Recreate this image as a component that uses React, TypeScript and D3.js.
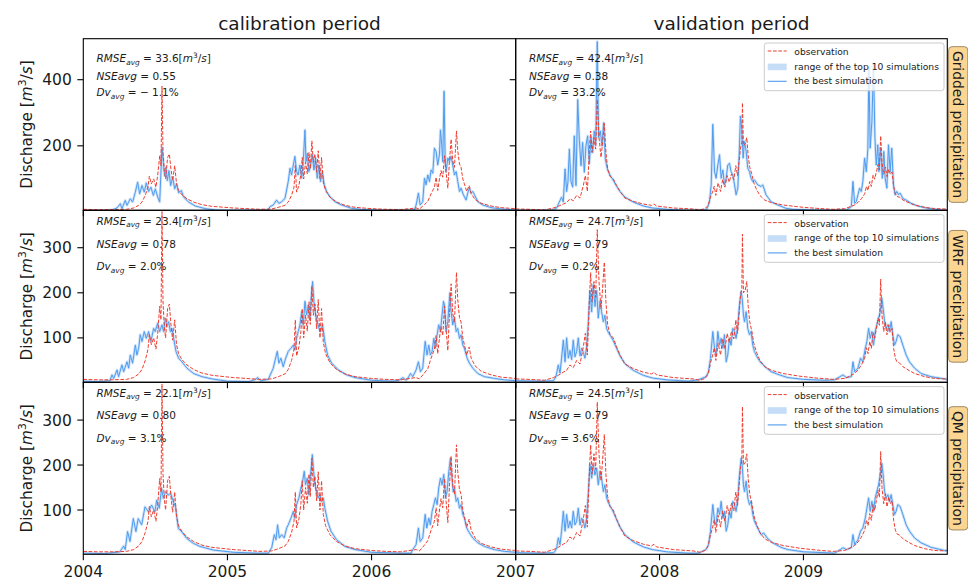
import React, { useLayoutEffect, useRef, useState } from 'react';
import * as d3 from 'd3';

type P = [number, number];

// ---------------- layout constants ----------------
const W = 968;
const H = 578;
const COL_X: [number, number][] = [[83.3, 515.7], [515.7, 947.3]];
const ROW_Y: [number, number][] = [[38.7, 210.3], [210.3, 382.3], [382.3, 554.3]];

// ---------------- labels / axes ----------------
const PERIOD_TITLES = ['calibration period', 'validation period'];
const PERIOD_DOMAINS: [number, number][] = [[2004, 2007], [2007, 2010]];
const X_TICKS = [[2004, 2005, 2006, 2007], [2007, 2008, 2009]];
const X_TICK_LABELS = [[2004, 2005, 2006], [2007, 2008, 2009]];
const ROW_LABELS = ['Gridded precipitation', 'WRF precipitation', 'QM precipitation'];
const Y_DOMAINS: [number, number][] = [[5, 524], [1.5, 383], [1.5, 384]];
const Y_TICKS = [[200, 400], [100, 200, 300], [100, 200, 300]];
const LEGEND_LABELS = ['observation', 'range of the top 10 simulations', 'the best simulation'];

// statistics per row: [calibration, validation]
const RMSE_AVG = [[33.6, 42.4], [23.4, 24.7], [22.1, 24.5]];
const NSE_AVG = [[0.55, 0.38], [0.78, 0.79], [0.80, 0.79]];
const DV_AVG = [[-1.1, 33.2], [2.0, 0.2], [3.1, 3.6]];

// ---------------- observations ----------------
const OBS_CAL: P[] = [
  [2004.000, 8], [2004.100, 7], [2004.200, 7], [2004.300, 8],
  [2004.349, 12], [2004.384, 20], [2004.407, 30], [2004.430, 50], [2004.449, 75], [2004.458, 108], [2004.472, 85],
  [2004.488, 100], [2004.504, 75], [2004.516, 110], [2004.530, 170], [2004.539, 140], [2004.546, 380], [2004.553, 180],
  [2004.562, 125], [2004.571, 100], [2004.585, 165], [2004.597, 175], [2004.608, 130], [2004.620, 95], [2004.634, 140],
  [2004.647, 85], [2004.661, 65], [2004.684, 52], [2004.719, 40], [2004.765, 30], [2004.823, 22], [2004.892, 17],
  [2005.040, 12], [2005.225, 8],
  [2005.307, 9], [2005.353, 14], [2005.399, 20], [2005.422, 30], [2005.445, 50], [2005.462, 75], [2005.471, 140],
  [2005.480, 60], [2005.496, 80], [2005.510, 115], [2005.519, 165], [2005.529, 100], [2005.542, 150], [2005.554, 115],
  [2005.566, 180], [2005.575, 130], [2005.586, 215], [2005.596, 150], [2005.607, 175], [2005.619, 120], [2005.630, 185],
  [2005.642, 100], [2005.653, 165], [2005.665, 90], [2005.681, 65], [2005.711, 45], [2005.757, 30], [2005.815, 20],
  [2005.885, 14], [2006.000, 10], [2006.100, 8], [2006.200, 7],
  [2006.309, 12], [2006.332, 9], [2006.367, 22], [2006.390, 32], [2006.413, 55], [2006.436, 75], [2006.448, 105],
  [2006.459, 65], [2006.471, 100], [2006.482, 125], [2006.494, 105], [2006.506, 170], [2006.517, 120], [2006.529, 72],
  [2006.540, 150], [2006.552, 220], [2006.563, 155], [2006.575, 135], [2006.589, 245], [2006.598, 185], [2006.610, 145],
  [2006.621, 135], [2006.633, 100], [2006.644, 85], [2006.660, 62], [2006.677, 80], [2006.691, 55], [2006.718, 38],
  [2006.760, 26], [2006.829, 18], [2006.899, 13], [2007.000, 10],
];

const OBS_VAL: P[] = [
  [2007.000, 9], [2007.100, 8], [2007.200, 6], [2007.262, 12], [2007.296, 17], [2007.331, 24], [2007.354, 28],
  [2007.377, 40], [2007.400, 34], [2007.424, 50], [2007.447, 42], [2007.470, 80], [2007.484, 110], [2007.498, 62],
  [2007.512, 185], [2007.521, 245], [2007.530, 180], [2007.544, 225], [2007.556, 190], [2007.567, 340], [2007.579, 225],
  [2007.593, 165], [2007.604, 210], [2007.616, 268], [2007.627, 180], [2007.639, 130], [2007.655, 108], [2007.678, 100],
  [2007.701, 80], [2007.725, 62], [2007.759, 42], [2007.817, 32], [2007.887, 24], [2007.944, 20], [2007.961, 24],
  [2007.979, 18], [2008.095, 12], [2008.234, 9],
  [2008.280, 6], [2008.315, 10], [2008.338, 20], [2008.354, 45], [2008.368, 60], [2008.380, 78], [2008.391, 50],
  [2008.407, 88], [2008.424, 62], [2008.438, 98], [2008.454, 75], [2008.470, 110], [2008.484, 90], [2008.500, 115],
  [2008.516, 98], [2008.530, 140], [2008.542, 110], [2008.553, 155], [2008.563, 195], [2008.572, 210], [2008.576, 330],
  [2008.583, 200], [2008.595, 205], [2008.606, 225], [2008.616, 170], [2008.627, 135], [2008.641, 115], [2008.655, 88],
  [2008.674, 68], [2008.697, 50], [2008.731, 36], [2008.778, 28], [2008.859, 21], [2008.975, 15], [2009.090, 11],
  [2009.206, 8],
  [2009.287, 10], [2009.333, 17], [2009.356, 21], [2009.380, 29], [2009.403, 40], [2009.426, 55], [2009.438, 78],
  [2009.449, 65], [2009.461, 92], [2009.472, 77], [2009.484, 112], [2009.495, 99], [2009.507, 121], [2009.519, 144],
  [2009.528, 128], [2009.537, 230], [2009.546, 150], [2009.558, 114], [2009.569, 136], [2009.581, 107], [2009.593, 129],
  [2009.604, 114], [2009.616, 121], [2009.627, 77], [2009.639, 55], [2009.650, 47], [2009.669, 44], [2009.692, 36],
  [2009.727, 29], [2009.773, 21], [2009.843, 14], [2009.912, 10], [2009.993, 9],
];

// ---------------- best simulations ----------------
const SIM_CAL_GRIDDED: P[] = [
  [2004.000, 5], [2004.150, 5], [2004.199, 6], [2004.234, 12], [2004.257, 25], [2004.268, 10], [2004.291, 35],
  [2004.303, 20], [2004.326, 40], [2004.342, 30], [2004.361, 60], [2004.377, 90], [2004.391, 55], [2004.407, 80],
  [2004.423, 60], [2004.437, 88], [2004.453, 62], [2004.469, 75], [2004.486, 50], [2004.500, 70], [2004.516, 45],
  [2004.530, 30], [2004.546, 195], [2004.555, 150], [2004.564, 110], [2004.573, 135], [2004.583, 95], [2004.594, 125],
  [2004.606, 80], [2004.620, 105], [2004.634, 70], [2004.647, 85], [2004.661, 58], [2004.680, 65], [2004.696, 45],
  [2004.731, 30], [2004.777, 18], [2004.846, 10], [2004.916, 6], [2005.000, 5],
  [2005.283, 6], [2005.295, 16], [2005.318, 21], [2005.341, 36], [2005.357, 26], [2005.376, 31], [2005.399, 41],
  [2005.422, 92], [2005.434, 132], [2005.445, 112], [2005.457, 142], [2005.468, 168], [2005.480, 122], [2005.491, 112],
  [2005.503, 142], [2005.515, 102], [2005.526, 152], [2005.538, 248], [2005.545, 152], [2005.554, 178], [2005.565, 122],
  [2005.577, 142], [2005.589, 173], [2005.600, 127], [2005.612, 163], [2005.623, 102], [2005.635, 142], [2005.646, 92],
  [2005.658, 122], [2005.672, 82], [2005.688, 62], [2005.711, 46], [2005.746, 31], [2005.792, 21], [2005.861, 11],
  [2005.919, 8], [2006.050, 5],
  [2006.298, 6], [2006.309, 21], [2006.325, 57], [2006.337, 21], [2006.355, 31], [2006.367, 102], [2006.378, 82],
  [2006.390, 112], [2006.402, 92], [2006.413, 127], [2006.425, 117], [2006.436, 193], [2006.448, 183], [2006.459, 142],
  [2006.471, 173], [2006.478, 248], [2006.487, 203], [2006.494, 152], [2006.503, 365], [2006.510, 173], [2006.517, 122],
  [2006.529, 163], [2006.540, 152], [2006.552, 168], [2006.563, 142], [2006.575, 112], [2006.587, 122], [2006.598, 92],
  [2006.610, 62], [2006.621, 72], [2006.637, 52], [2006.656, 36], [2006.667, 57], [2006.679, 72], [2006.691, 57],
  [2006.702, 62], [2006.714, 52], [2006.737, 31], [2006.772, 21], [2006.829, 13], [2006.899, 9], [2007.000, 6],
];

const SIM_CAL_WRF: P[] = [
  [2004.000, 4], [2004.100, 3], [2004.185, 5], [2004.199, 18], [2004.211, 10], [2004.234, 29], [2004.245, 14],
  [2004.268, 40], [2004.280, 25], [2004.303, 47], [2004.315, 33], [2004.326, 62], [2004.342, 44], [2004.361, 84],
  [2004.372, 62], [2004.384, 77], [2004.395, 107], [2004.407, 92], [2004.423, 114], [2004.437, 99], [2004.453, 114],
  [2004.469, 92], [2004.488, 121], [2004.499, 114], [2004.516, 133], [2004.530, 114], [2004.546, 129], [2004.557, 114],
  [2004.569, 144], [2004.580, 125], [2004.592, 136], [2004.604, 114], [2004.615, 121], [2004.627, 99], [2004.643, 70],
  [2004.661, 55], [2004.684, 47], [2004.719, 33], [2004.765, 21], [2004.823, 14], [2004.892, 9], [2005.000, 4],
  [2005.150, 3], [2005.195, 8], [2005.210, 12], [2005.230, 5],
  [2005.283, 8], [2005.307, 25], [2005.318, 33], [2005.334, 55], [2005.346, 70], [2005.357, 44], [2005.371, 55],
  [2005.387, 36], [2005.404, 55], [2005.422, 70], [2005.441, 77], [2005.457, 84], [2005.468, 73], [2005.480, 99],
  [2005.491, 114], [2005.503, 129], [2005.515, 158], [2005.526, 129], [2005.538, 181], [2005.549, 151], [2005.561, 173],
  [2005.572, 140], [2005.584, 203], [2005.591, 225], [2005.600, 181], [2005.612, 151], [2005.623, 136], [2005.635, 121],
  [2005.646, 114], [2005.660, 129], [2005.676, 92], [2005.695, 62], [2005.723, 44], [2005.769, 29], [2005.827, 18],
  [2005.885, 12], [2006.000, 6], [2006.150, 4],
  [2006.190, 6], [2006.217, 12], [2006.240, 6], [2006.251, 10], [2006.270, 21], [2006.286, 14], [2006.309, 29],
  [2006.325, 47], [2006.339, 25], [2006.355, 33], [2006.372, 92], [2006.385, 62], [2006.397, 84], [2006.408, 62],
  [2006.420, 70], [2006.432, 99], [2006.443, 77], [2006.455, 107], [2006.466, 129], [2006.478, 114], [2006.489, 151],
  [2006.499, 181], [2006.506, 173], [2006.517, 114], [2006.529, 136], [2006.543, 200], [2006.552, 158], [2006.563, 129],
  [2006.575, 144], [2006.587, 114], [2006.598, 121], [2006.610, 99], [2006.621, 107], [2006.633, 84], [2006.644, 77],
  [2006.663, 55], [2006.679, 44], [2006.702, 33], [2006.737, 21], [2006.783, 14], [2006.852, 10], [2006.922, 7],
  [2007.000, 5],
];

const SIM_CAL_QM: P[] = [
  [2004.000, 4], [2004.150, 3], [2004.254, 7], [2004.280, 20], [2004.291, 12], [2004.307, 52], [2004.324, 30],
  [2004.347, 81], [2004.365, 52], [2004.381, 81], [2004.405, 67], [2004.428, 107], [2004.451, 96], [2004.474, 111],
  [2004.497, 96], [2004.509, 122], [2004.527, 104], [2004.543, 148], [2004.555, 126], [2004.571, 141], [2004.589, 133],
  [2004.606, 137], [2004.624, 119], [2004.640, 107], [2004.659, 59], [2004.682, 52], [2004.717, 37], [2004.763, 26],
  [2004.809, 19], [2004.902, 11], [2005.040, 6], [2005.200, 4],
  [2005.283, 4], [2005.307, 16], [2005.325, 45], [2005.337, 34], [2005.348, 67], [2005.360, 38], [2005.376, 45],
  [2005.394, 38], [2005.411, 60], [2005.422, 67], [2005.441, 82], [2005.457, 97], [2005.468, 82], [2005.480, 112],
  [2005.496, 127], [2005.510, 149], [2005.522, 164], [2005.533, 186], [2005.542, 156], [2005.554, 171], [2005.565, 134],
  [2005.577, 179], [2005.589, 223], [2005.598, 186], [2005.607, 156], [2005.619, 141], [2005.630, 127], [2005.642, 134],
  [2005.653, 119], [2005.665, 127], [2005.676, 104], [2005.695, 75], [2005.718, 53], [2005.757, 34], [2005.815, 19],
  [2005.885, 12], [2006.000, 6], [2006.200, 4],
  [2006.274, 4], [2006.286, 12], [2006.309, 23], [2006.325, 60], [2006.337, 30], [2006.355, 38], [2006.372, 90],
  [2006.383, 60], [2006.397, 82], [2006.408, 67], [2006.420, 97], [2006.432, 112], [2006.443, 127], [2006.455, 112],
  [2006.466, 149], [2006.478, 171], [2006.489, 156], [2006.501, 179], [2006.513, 127], [2006.524, 141], [2006.536, 186],
  [2006.547, 215], [2006.556, 179], [2006.566, 141], [2006.575, 149], [2006.587, 119], [2006.598, 127], [2006.610, 104],
  [2006.621, 112], [2006.633, 90], [2006.644, 82], [2006.660, 60], [2006.679, 49], [2006.702, 38], [2006.737, 27],
  [2006.783, 19], [2006.852, 12], [2006.922, 8], [2007.000, 6],
];

const SIM_VAL_GRIDDED: P[] = [
  [2007.000, 5], [2007.169, 5], [2007.262, 6], [2007.285, 12], [2007.303, 30], [2007.319, 45], [2007.331, 30],
  [2007.343, 130], [2007.354, 62], [2007.363, 90], [2007.373, 190], [2007.384, 92], [2007.396, 75], [2007.407, 230],
  [2007.419, 80], [2007.431, 340], [2007.442, 220], [2007.454, 140], [2007.465, 210], [2007.477, 120], [2007.488, 200],
  [2007.500, 230], [2007.512, 145], [2007.523, 225], [2007.535, 180], [2007.546, 245], [2007.556, 205], [2007.567, 515],
  [2007.576, 225], [2007.588, 245], [2007.600, 200], [2007.611, 270], [2007.623, 160], [2007.637, 130], [2007.655, 112],
  [2007.678, 96], [2007.701, 78], [2007.725, 62], [2007.759, 45], [2007.817, 30], [2007.887, 18], [2007.950, 12],
  [2008.050, 8], [2008.200, 5],
  [2008.324, 6], [2008.336, 16], [2008.347, 31], [2008.359, 82], [2008.370, 265], [2008.382, 122], [2008.393, 102],
  [2008.405, 142], [2008.417, 173], [2008.428, 102], [2008.440, 127], [2008.451, 82], [2008.463, 102], [2008.474, 142],
  [2008.486, 147], [2008.497, 122], [2008.509, 112], [2008.521, 82], [2008.532, 52], [2008.544, 72], [2008.555, 193],
  [2008.562, 290], [2008.571, 253], [2008.581, 163], [2008.590, 213], [2008.602, 183], [2008.613, 132], [2008.625, 122],
  [2008.636, 102], [2008.648, 92], [2008.659, 97], [2008.682, 82], [2008.706, 77], [2008.717, 82], [2008.740, 52],
  [2008.775, 31], [2008.821, 21], [2008.879, 11], [2008.925, 8], [2009.050, 6], [2009.200, 5],
  [2009.300, 6], [2009.333, 16], [2009.344, 92], [2009.356, 26], [2009.367, 31], [2009.379, 52], [2009.390, 72],
  [2009.402, 62], [2009.413, 92], [2009.425, 163], [2009.437, 122], [2009.448, 193], [2009.455, 440], [2009.464, 193],
  [2009.476, 274], [2009.487, 445], [2009.497, 223], [2009.506, 142], [2009.517, 203], [2009.524, 122], [2009.536, 193],
  [2009.548, 102], [2009.559, 183], [2009.568, 102], [2009.580, 72], [2009.591, 203], [2009.603, 122], [2009.614, 193],
  [2009.626, 82], [2009.637, 52], [2009.649, 62], [2009.661, 52], [2009.672, 57], [2009.691, 41], [2009.714, 36],
  [2009.749, 26], [2009.795, 18], [2009.864, 11], [2009.957, 6], [2010.000, 5],
];

const SIM_VAL_WRF: P[] = [
  [2007.000, 5], [2007.169, 4], [2007.262, 5], [2007.280, 14], [2007.296, 40], [2007.308, 22], [2007.319, 55],
  [2007.331, 95], [2007.343, 47], [2007.354, 100], [2007.366, 55], [2007.377, 72], [2007.389, 52], [2007.400, 95],
  [2007.412, 58], [2007.424, 70], [2007.435, 100], [2007.447, 60], [2007.458, 77], [2007.470, 68], [2007.481, 55],
  [2007.493, 80], [2007.505, 136], [2007.516, 205], [2007.528, 158], [2007.539, 218], [2007.551, 170], [2007.563, 205],
  [2007.574, 144], [2007.586, 182], [2007.597, 158], [2007.609, 136], [2007.620, 150], [2007.632, 121], [2007.644, 112],
  [2007.660, 104], [2007.678, 94], [2007.701, 77], [2007.725, 60], [2007.759, 43], [2007.817, 28], [2007.887, 17],
  [2007.950, 11], [2008.050, 7], [2008.200, 4],
  [2008.270, 7], [2008.324, 14], [2008.340, 25], [2008.354, 55], [2008.370, 114], [2008.382, 77], [2008.393, 62],
  [2008.405, 114], [2008.417, 84], [2008.428, 99], [2008.440, 77], [2008.451, 107], [2008.463, 47], [2008.474, 62],
  [2008.486, 99], [2008.497, 84], [2008.509, 121], [2008.521, 114], [2008.532, 99], [2008.544, 129], [2008.555, 173],
  [2008.567, 203], [2008.574, 188], [2008.583, 151], [2008.590, 136], [2008.602, 158], [2008.613, 121], [2008.625, 107],
  [2008.636, 114], [2008.648, 84], [2008.659, 70], [2008.682, 55], [2008.706, 44], [2008.717, 42], [2008.733, 36],
  [2008.775, 25], [2008.833, 18], [2008.891, 12], [2009.000, 8], [2009.150, 6],
  [2009.217, 7], [2009.275, 18], [2009.298, 12], [2009.333, 14], [2009.344, 47], [2009.356, 25], [2009.379, 33],
  [2009.397, 55], [2009.413, 47], [2009.430, 77], [2009.441, 92], [2009.453, 121], [2009.464, 99], [2009.476, 114],
  [2009.487, 84], [2009.499, 114], [2009.510, 129], [2009.522, 144], [2009.534, 158], [2009.545, 188], [2009.554, 166],
  [2009.564, 136], [2009.575, 121], [2009.587, 129], [2009.598, 114], [2009.610, 136], [2009.621, 107], [2009.633, 84],
  [2009.644, 92], [2009.656, 107], [2009.672, 103], [2009.691, 84], [2009.714, 62], [2009.737, 47], [2009.772, 33],
  [2009.818, 21], [2009.887, 14], [2009.980, 9], [2010.000, 8],
];

const SIM_VAL_QM: P[] = [
  [2007.000, 5], [2007.169, 4], [2007.262, 5], [2007.273, 8], [2007.285, 16], [2007.296, 38], [2007.308, 23],
  [2007.319, 53], [2007.331, 97], [2007.343, 53], [2007.354, 90], [2007.366, 60], [2007.377, 75], [2007.389, 60],
  [2007.400, 97], [2007.412, 67], [2007.424, 75], [2007.435, 104], [2007.447, 67], [2007.458, 82], [2007.470, 75],
  [2007.481, 60], [2007.493, 82], [2007.505, 141], [2007.516, 201], [2007.528, 171], [2007.539, 201], [2007.551, 178],
  [2007.563, 193], [2007.574, 156], [2007.586, 186], [2007.597, 171], [2007.609, 141], [2007.620, 156], [2007.632, 127],
  [2007.644, 116], [2007.660, 107], [2007.678, 96], [2007.701, 79], [2007.725, 62], [2007.759, 45], [2007.817, 29],
  [2007.887, 18], [2007.950, 12], [2008.050, 7], [2008.200, 4],
  [2008.270, 4], [2008.324, 12], [2008.340, 23], [2008.354, 53], [2008.370, 112], [2008.382, 75], [2008.393, 67],
  [2008.405, 104], [2008.417, 90], [2008.428, 119], [2008.440, 82], [2008.451, 97], [2008.463, 53], [2008.474, 67],
  [2008.486, 97], [2008.497, 82], [2008.509, 119], [2008.521, 112], [2008.532, 97], [2008.544, 127], [2008.555, 178],
  [2008.567, 215], [2008.574, 201], [2008.583, 156], [2008.590, 141], [2008.602, 164], [2008.613, 127], [2008.625, 112],
  [2008.636, 119], [2008.648, 90], [2008.659, 75], [2008.682, 60], [2008.706, 45], [2008.724, 49], [2008.747, 38],
  [2008.786, 27], [2008.844, 17], [2008.891, 12], [2009.000, 7], [2009.150, 5],
  [2009.217, 4], [2009.275, 16], [2009.298, 12], [2009.333, 16], [2009.344, 45], [2009.356, 23], [2009.379, 34],
  [2009.397, 53], [2009.413, 60], [2009.430, 82], [2009.441, 104], [2009.453, 127], [2009.464, 97], [2009.476, 119],
  [2009.487, 97], [2009.499, 127], [2009.510, 141], [2009.522, 156], [2009.534, 178], [2009.545, 204], [2009.554, 178],
  [2009.564, 141], [2009.575, 127], [2009.587, 134], [2009.598, 119], [2009.610, 134], [2009.621, 112], [2009.633, 90],
  [2009.644, 97], [2009.656, 112], [2009.672, 108], [2009.691, 90], [2009.714, 67], [2009.737, 53], [2009.772, 38],
  [2009.818, 27], [2009.887, 17], [2009.980, 10], [2010.000, 10],
];

const OBS_SERIES = [OBS_CAL, OBS_VAL];
const SIM_SERIES = [
  [SIM_CAL_GRIDDED, SIM_VAL_GRIDDED],
  [SIM_CAL_WRF, SIM_VAL_WRF],
  [SIM_CAL_QM, SIM_VAL_QM],
];

// ---------------- styles ----------------
const FONT = 'DejaVu Sans, Verdana, sans-serif';
const OBS_COLOR = '#ee3d2f';
const SIM_COLOR = '#4f9bef';
const BAND_COLOR = '#cfe3f8';
const TEXT_COLOR = '#1a1a1a';
const BOX_FILL = '#fbd592';
const BOX_STROKE = '#a08a63';

// annotation baselines, offset from panel top
const ANNOT_OFFSETS = [[23.6, 41.3, 57.6], [14.2, 37.4, 59.7], [14.2, 37.0, 59.4]];

const fmtMinus = (v: number, d: number) => (v < 0 ? '\u2212 ' + Math.abs(v).toFixed(d) : v.toFixed(d));

function Annotation({ x, ys, r, c }: { x: number; ys: number[]; r: number; c: number }) {
  const fs = 10.5;
  const sub = 7.4;
  return (
    <g fontFamily={FONT} fontSize={fs} fill={TEXT_COLOR}>
      <text x={x} y={ys[0]}>
        <tspan fontStyle="italic">RMSE</tspan>
        <tspan fontStyle="italic" fontSize={sub} dy={2.6}>avg</tspan>
        <tspan dy={-2.6}>{' = ' + RMSE_AVG[r][c].toFixed(1) + '['}</tspan>
        <tspan fontStyle="italic">m</tspan>
        <tspan fontSize={sub} dy={-4}>3</tspan>
        <tspan dy={4}>/</tspan>
        <tspan fontStyle="italic">s</tspan>
        <tspan>]</tspan>
      </text>
      <text x={x} y={ys[1]}>
        <tspan fontStyle="italic">NSEavg</tspan>
        <tspan>{' = ' + NSE_AVG[r][c].toFixed(2)}</tspan>
      </text>
      <text x={x} y={ys[2]}>
        <tspan fontStyle="italic">Dv</tspan>
        <tspan fontStyle="italic" fontSize={sub} dy={2.6}>avg</tspan>
        <tspan dy={-2.6}>{' = ' + fmtMinus(DV_AVG[r][c], 1) + '%'}</tspan>
      </text>
    </g>
  );
}

function Legend({ top }: { top: number }) {
  const bx = 764.3;
  const bw = 179.7;
  const bh = 47.7;
  const hx0 = bx + 3.4;
  const hx1 = bx + 22.4;
  const tx = bx + 30;
  return (
    <g>
      <rect x={bx} y={top} width={bw} height={bh} rx={2.5} ry={2.5} fill="#ffffff" fillOpacity={0.8} stroke="#cccccc" strokeWidth={1} />
      <line x1={hx0} x2={hx1} y1={top + 8} y2={top + 8} stroke={OBS_COLOR} strokeWidth={1} strokeDasharray="3.7,1.6" />
      <rect x={hx0} y={top + 20.6} width={hx1 - hx0} height={6.6} fill="#c6ddf7" />
      <line x1={hx0} x2={hx1} y1={top + 38.3} y2={top + 38.3} stroke={SIM_COLOR} strokeWidth={1.1} />
      <g fontFamily={FONT} fontSize={9.2} fill={TEXT_COLOR}>
        <text x={tx} y={top + 12.3}>{LEGEND_LABELS[0]}</text>
        <text x={tx} y={top + 26.6}>{LEGEND_LABELS[1]}</text>
        <text x={tx} y={top + 41.3}>{LEGEND_LABELS[2]}</text>
      </g>
    </g>
  );
}

function RowLabel({ r }: { r: number }) {
  const ref = useRef<SVGTextElement>(null);
  const [len, setLen] = useState(ROW_LABELS[r].length * 7);
  useLayoutEffect(() => {
    if (ref.current) setLen(ref.current.getComputedTextLength());
  }, []);
  const cy = (ROW_Y[r][0] + ROW_Y[r][1]) / 2;
  const pad = 4.2;
  const bx = 948.6;
  return (
    <g>
      <rect x={bx} y={cy - len / 2 - pad} width={19.2} height={len + 2 * pad} rx={3.5} ry={3.5} fill={BOX_FILL} stroke={BOX_STROKE} strokeWidth={1} />
      <text ref={ref} transform={`translate(953.4, ${cy}) rotate(90)`} textAnchor="middle" fontFamily={FONT} fontSize={13.9} fill={TEXT_COLOR}>
        {ROW_LABELS[r]}
      </text>
    </g>
  );
}

export default function App() {
  const panels: React.ReactNode[] = [];
  for (let r = 0; r < 3; r++) {
    for (let c = 0; c < 2; c++) {
      const [x0, x1] = COL_X[c];
      const [y0, y1] = ROW_Y[r];
      const x = d3.scaleLinear().domain(PERIOD_DOMAINS[c]).range([x0, x1]);
      const y = d3.scaleLinear().domain(Y_DOMAINS[r]).range([y1, y0]);
      const line = d3.line<P>().x((d) => x(d[0])).y((d) => y(d[1]));
      const clipId = `clip-${r}-${c}`;
      const sim = SIM_SERIES[r][c];
      const obs = OBS_SERIES[c];
      panels.push(
        <g key={clipId}>
          <defs>
            <clipPath id={clipId}>
              <rect x={x0} y={y0} width={x1 - x0} height={y1 - y0} />
            </clipPath>
          </defs>
          <g clipPath={`url(#${clipId})`}>
            <path d={line(sim) || ''} fill="none" stroke={BAND_COLOR} strokeWidth={2.8} strokeLinejoin="round" />
            <path d={line(sim) || ''} fill="none" stroke={SIM_COLOR} strokeWidth={1} strokeLinejoin="round" />
            <path d={line(obs) || ''} fill="none" stroke={OBS_COLOR} strokeWidth={1} strokeDasharray="3.7,1.6" />
          </g>
          {Y_TICKS[r].map((t) => (
            <line key={`yt${t}`} x1={x0 - 6} x2={x0} y1={y(t)} y2={y(t)} stroke="#000" strokeWidth={1.1} />
          ))}
          {c === 0 &&
            Y_TICKS[r].map((t) => (
              <text key={`yl${t}`} x={x0 - 11.5} y={y(t)} dy="0.36em" textAnchor="end" fontFamily={FONT} fontSize={15.5} fill={TEXT_COLOR}>
                {t}
              </text>
            ))}
          {X_TICKS[c].map((t) => (
            <line key={`xt${t}`} x1={x(t)} x2={x(t)} y1={y1} y2={y1 + 6} stroke="#000" strokeWidth={1.1} />
          ))}
          {r === 2 &&
            X_TICK_LABELS[c].map((t) => (
              <text key={`xl${t}`} x={x(t)} y={576.5} textAnchor="middle" fontFamily={FONT} fontSize={15.5} fill={TEXT_COLOR}>
                {t}
              </text>
            ))}
          <Annotation x={x0 + 13.2} ys={ANNOT_OFFSETS[r].map((o) => y0 + o)} r={r} c={c} />
          <rect x={x0} y={y0} width={x1 - x0} height={y1 - y0} fill="none" stroke="#000" strokeWidth={1.1} />
          {c === 1 && <Legend top={y0 + 4.3} />}
        </g>
      );
    }
  }

  return (
    <svg width={W} height={H} viewBox={`0 0 ${W} ${H}`} style={{ position: 'absolute', left: 0, top: 0, background: '#ffffff' }}>
      <rect x={0} y={0} width={W} height={H} fill="#ffffff" />
      {PERIOD_TITLES.map((t, c) => (
        <text key={t} x={(COL_X[c][0] + COL_X[c][1]) / 2} y={29.5} textAnchor="middle" fontFamily={FONT} fontSize={18.5} fill={TEXT_COLOR}>
          {t}
        </text>
      ))}
      {panels}
      {ROW_Y.map(([a, b], r) => (
        <text key={`ylab${r}`} transform={`translate(31.5, ${(a + b) / 2}) rotate(-90)`} textAnchor="middle" fontFamily={FONT} fontSize={15.3} fill={TEXT_COLOR}>
          <tspan>Discharge [</tspan>
          <tspan fontStyle="italic">m</tspan>
          <tspan fontSize={10.7} dy={-5.5}>3</tspan>
          <tspan dy={5.5}>/</tspan>
          <tspan fontStyle="italic">s</tspan>
          <tspan>]</tspan>
        </text>
      ))}
      {ROW_LABELS.map((_, r) => (
        <RowLabel key={`rl${r}`} r={r} />
      ))}
    </svg>
  );
}
